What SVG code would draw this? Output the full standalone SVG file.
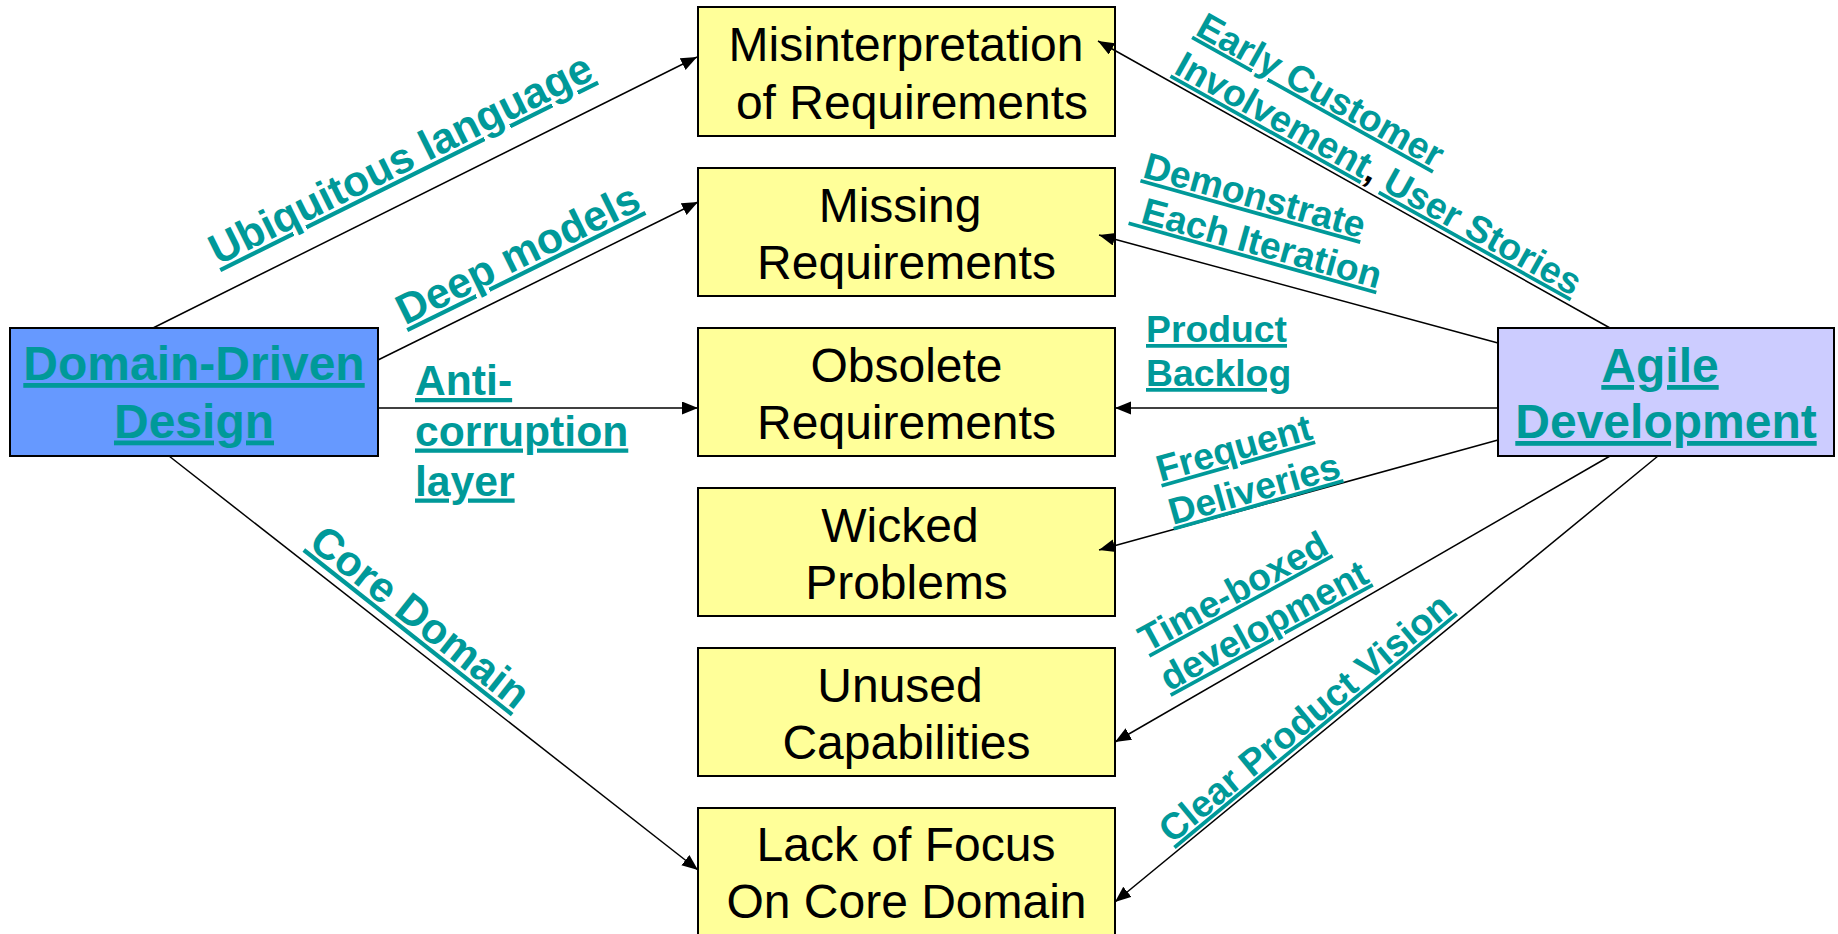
<svg xmlns="http://www.w3.org/2000/svg" width="1838" height="934" viewBox="0 0 1838 934">
  <defs>
    <marker id="arr" markerUnits="userSpaceOnUse" markerWidth="17" markerHeight="14" refX="16" refY="6.5" orient="auto">
      <path d="M0,0 L16,6.5 L0,13 z" fill="#000"/>
    </marker>
  </defs>
  <style>
    .box { stroke: #000; stroke-width: 2; }
    .prob { fill: #FFFF99; }
    .ddd { fill: #6699FF; }
    .agile { fill: #CCCCFF; }
    .ptxt { font-family: "Liberation Sans", Arial, sans-serif; font-size: 48px; fill: #000; text-anchor: middle; }
    .stxt { font-family: "Liberation Sans", Arial, sans-serif; font-size: 48px; font-weight: bold; text-anchor: middle; }
    .lnk { fill: #009999; text-decoration: underline; text-decoration-thickness: 0.09em; }
    .lbl { font-family: "Liberation Sans", Arial, sans-serif; font-weight: bold; font-size: 42.67px; }
    .lbl2 { font-family: "Liberation Sans", Arial, sans-serif; font-weight: bold; font-size: 37.33px; }
    .conn line { stroke: #000; stroke-width: 1.5; marker-end: url(#arr); }
  </style>
  <rect width="1838" height="934" fill="#fff"/>

  <!-- source nodes -->
  <g id="domain-driven-design">
    <rect class="box ddd" x="10" y="328" width="368" height="128"/>
    <text class="stxt"><tspan class="lnk" x="194" y="380">Domain-Driven</tspan><tspan class="lnk" x="194" y="437.5">Design</tspan></text>
  </g>
  <g id="agile-development">
    <rect class="box agile" x="1498" y="328" width="336" height="128"/>
    <text class="stxt"><tspan class="lnk" x="1660" y="382">Agile</tspan><tspan class="lnk" x="1666" y="438">Development</tspan></text>
  </g>

  <!-- problem nodes -->
  <g id="misinterpretation">
    <rect class="box prob" x="698" y="7" width="417" height="129"/>
    <text class="ptxt"><tspan x="906" y="61">Misinterpretation</tspan><tspan x="912" y="119">of Requirements</tspan></text>
  </g>
  <g id="missing">
    <rect class="box prob" x="698" y="168" width="417" height="128"/>
    <text class="ptxt"><tspan x="900" y="222">Missing</tspan><tspan x="906.5" y="279">Requirements</tspan></text>
  </g>
  <g id="obsolete">
    <rect class="box prob" x="698" y="328" width="417" height="128"/>
    <text class="ptxt"><tspan x="906.5" y="382">Obsolete</tspan><tspan x="906.5" y="439">Requirements</tspan></text>
  </g>
  <g id="wicked">
    <rect class="box prob" x="698" y="488" width="417" height="128"/>
    <text class="ptxt"><tspan x="900" y="542">Wicked</tspan><tspan x="906.5" y="599">Problems</tspan></text>
  </g>
  <g id="unused">
    <rect class="box prob" x="698" y="648" width="417" height="128"/>
    <text class="ptxt"><tspan x="900" y="702">Unused</tspan><tspan x="906.5" y="759">Capabilities</tspan></text>
  </g>
  <g id="lack-of-focus">
    <rect class="box prob" x="698" y="808" width="417" height="140"/>
    <text class="ptxt"><tspan x="906" y="861">Lack of Focus</tspan><tspan x="906.5" y="918">On Core Domain</tspan></text>
  </g>

  <!-- connectors (drawn over the boxes: some heads end inside them) -->
  <g id="connectors" class="conn">
    <line x1="153" y1="328" x2="697" y2="57"/>
    <line x1="378" y1="360" x2="698" y2="202"/>
    <line x1="378" y1="408" x2="698" y2="408"/>
    <line x1="169" y1="456" x2="698" y2="870"/>
    <line x1="1610" y1="328" x2="1098" y2="41"/>
    <line x1="1498" y1="343" x2="1099" y2="235"/>
    <line x1="1498" y1="408" x2="1115" y2="408"/>
    <line x1="1498" y1="440" x2="1099" y2="550"/>
    <line x1="1610" y1="456" x2="1115" y2="742"/>
    <line x1="1658" y1="456" x2="1115" y2="902"/>
  </g>

  <!-- connector labels -->
  <g id="connector-labels">
    <text class="lbl" transform="translate(218,265.5) rotate(-26.4)"><tspan class="lnk">Ubiquitous language</tspan></text>
    <text class="lbl" transform="translate(405,325.5) rotate(-26.2)"><tspan class="lnk">Deep models</tspan></text>
    <text class="lbl"><tspan class="lnk" x="415" y="395">Anti-</tspan><tspan class="lnk" x="415" y="445.5">corruption</tspan><tspan class="lnk" x="415" y="495.5">layer</tspan></text>
    <text class="lbl" transform="translate(307,546) rotate(38.3)"><tspan class="lnk">Core Domain</tspan></text>

    <text class="lbl2" transform="translate(1194,34) rotate(29.2)"><tspan class="lnk" x="0" y="0">Early Customer</tspan><tspan class="lnk" x="0" y="44.3">Involvement</tspan><tspan fill="#000">, </tspan><tspan class="lnk">User Stories</tspan></text>
    <text class="lbl2" transform="translate(1141.5,177) rotate(15.6)"><tspan class="lnk" x="0" y="0">Demonstrate</tspan><tspan class="lnk" x="0" y="44.2">&#160;Each Iteration</tspan></text>
    <text class="lbl2"><tspan class="lnk" x="1146" y="342">Product</tspan><tspan class="lnk" x="1146" y="386">Backlog</tspan></text>
    <text class="lbl2" transform="translate(1160.5,482) rotate(-15.8)"><tspan class="lnk" x="0" y="0">Frequent</tspan><tspan class="lnk" x="0" y="44.8">Deliveries</tspan></text>
    <text class="lbl2" transform="translate(1147.5,652.5) rotate(-28.6)"><tspan class="lnk" x="0" y="0">Time-boxed</tspan><tspan class="lnk" x="0" y="44.6">development</tspan></text>
    <text class="lbl2" transform="translate(1172,844.5) rotate(-39.6)"><tspan class="lnk">Clear Product Vision</tspan></text>
  </g>
</svg>
